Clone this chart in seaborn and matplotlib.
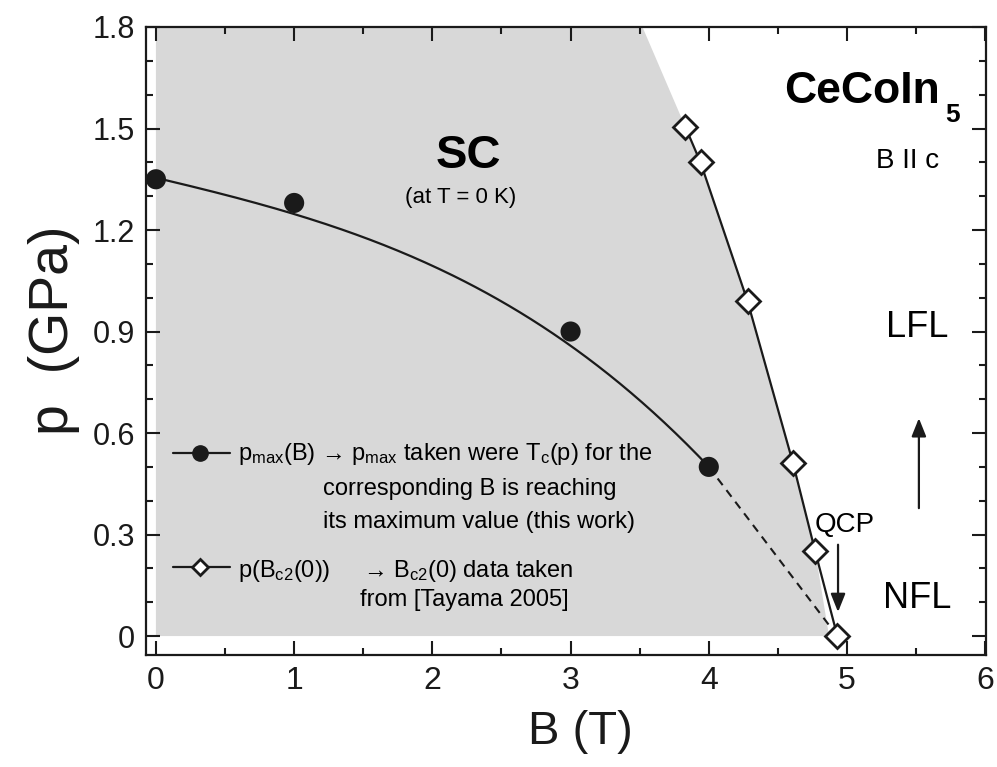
import numpy as np
import pandas as pd
import matplotlib
matplotlib.use("Agg")
import matplotlib.pyplot as plt
from matplotlib.ticker import MultipleLocator
import seaborn as sns

# p_max(B): pressure where Tc(p) peaks for a given field (this work)
b_pmax = [0.0, 1.0, 3.0, 4.0]
p_pmax = [1.35, 1.28, 0.90, 0.50]

# guide-to-the-eye line through p_max
b_guide = [0.0, 0.5, 1.0, 1.5, 2.0, 2.5, 3.0, 3.5, 4.0]
p_guide = [1.35, 1.31, 1.253, 1.175, 1.085, 0.985, 0.875, 0.69, 0.50]

# dashed extrapolation towards the QCP
b_extrap = [4.0, 4.93]
p_extrap = [0.50, 0.0]

# p(Bc2(0)) from Tayama 2005
b_bc2 = [3.83, 3.94, 4.28, 4.61, 4.77, 4.93]
p_bc2 = [1.505, 1.40, 0.99, 0.51, 0.25, 0.0]

# outline of the superconducting region
b_sc = [0.0, 0.0, 3.52, 3.83, 3.94, 4.28, 4.61, 4.77, 4.87]
p_sc = [0.0, 1.8, 1.8, 1.505, 1.40, 0.99, 0.51, 0.25, 0.0]

x_ticks = [0, 1, 2, 3, 4, 5, 6]
y_ticks = [0, 0.3, 0.6, 0.9, 1.2, 1.5, 1.8]
y_ticklabels = ["0", "0.3", "0.6", "0.9", "1.2", "1.5", "1.8"]

sns.set_theme(style="ticks")
plt.rcParams["font.family"] = ["Liberation Sans", "DejaVu Sans"]
plt.rcParams["mathtext.fontset"] = "custom"
plt.rcParams["mathtext.rm"] = "Liberation Sans"
plt.rcParams["mathtext.it"] = "Liberation Sans:italic"
plt.rcParams["mathtext.bf"] = "Liberation Sans:bold"
plt.rcParams["text.color"] = "black"
plt.rcParams["axes.labelcolor"] = "black"
plt.rcParams["xtick.color"] = "black"
plt.rcParams["ytick.color"] = "black"
plt.rcParams["xtick.labelcolor"] = "black"
plt.rcParams["ytick.labelcolor"] = "black"

fig = plt.figure(figsize=(9.97, 7.67), dpi=100)
ax = fig.add_axes([0.1464, 0.146, 0.8425, 0.8188])

# SC region
ax.fill(b_sc, p_sc, color="#d8d8d8", lw=0, zorder=0)

# smooth guide curve through p_max
coef = np.polyfit(b_guide, p_guide, 3)
bb = np.linspace(0, 4, 200)
guide = pd.DataFrame({"B": bb, "p": np.polyval(coef, bb)})
sns.lineplot(data=guide, x="B", y="p", color="k", lw=1.6, ax=ax,
             estimator=None, sort=False, zorder=2)
sns.lineplot(x=b_extrap, y=p_extrap, color="k", lw=1.5, ax=ax,
             linestyle=(0, (4, 3)), estimator=None, zorder=2)

sns.scatterplot(x=b_pmax, y=p_pmax, s=210, color="k", edgecolor="none",
                ax=ax, zorder=4)

sns.lineplot(x=b_bc2, y=p_bc2, color="k", lw=1.6, ax=ax, estimator=None,
             sort=False, marker="D", markersize=12, markerfacecolor="white",
             markeredgecolor="k", markeredgewidth=2, zorder=3)

# legend samples
ax.plot([0.123, 0.535], [0.541, 0.541], color="k", lw=1.6, zorder=3)
ax.plot([0.318], [0.541], "o", ms=11, color="k", zorder=4)
ax.plot([0.123, 0.535], [0.204, 0.204], color="k", lw=1.6, zorder=3)
ax.plot([0.318], [0.204], "D", ms=8, mfc="white", mec="k", mew=2, zorder=4)

fs_leg = 17
ax.text(0.593, 0.520,
        "p$_{\\rm max}$(B) \u2192 p$_{\\rm max}$ taken were T$_{\\rm c}$(p) for the",
        fontsize=fs_leg, ha="left", va="baseline")
ax.text(1.208, 0.417, "corresponding B is reaching", fontsize=fs_leg,
        ha="left", va="baseline")
ax.text(1.208, 0.319, "its maximum value (this work)", fontsize=fs_leg,
        ha="left", va="baseline")
ax.text(0.593, 0.174, "p(B$_{\\rm c2}$(0))", fontsize=fs_leg,
        ha="left", va="baseline")
ax.text(1.498, 0.174, "\u2192 B$_{\\rm c2}$(0) data taken",
        fontsize=fs_leg, ha="left", va="baseline")
ax.text(1.476, 0.089, "from [Tayama 2005]", fontsize=fs_leg,
        ha="left", va="baseline")

# region labels
ax.text(2.258, 1.42, "SC", fontsize=34, fontweight="bold",
        ha="center", va="center")
ax.text(2.207, 1.295, "(at T = 0 K)", fontsize=16, ha="center", va="center")
ax.text(5.673, 1.575, "CeCoIn", fontsize=32, fontweight="bold",
        ha="right", va="baseline")
ax.text(5.712, 1.519, "5", fontsize=19, fontweight="bold",
        ha="left", va="baseline")
ax.text(5.44, 1.404, "B II c", fontsize=20, ha="center", va="center")
ax.text(5.507, 0.913, "LFL", fontsize=26, ha="center", va="center")
ax.text(5.507, 0.112, "NFL", fontsize=26, ha="center", va="center")
ax.text(4.985, 0.328, "QCP", fontsize=20, ha="center", va="center")

arrow = dict(arrowstyle="-|>,head_length=0.55,head_width=0.22",
             color="k", lw=1.6, mutation_scale=20, shrinkA=0, shrinkB=0)
ax.annotate("", xy=(5.52, 0.644), xytext=(5.52, 0.378), arrowprops=arrow)
ax.annotate("", xy=(4.935, 0.071), xytext=(4.935, 0.27), arrowprops=arrow)

ax.set_xlim(-0.072, 6.005)
ax.set_ylim(-0.056, 1.8)
ax.set_xticks(x_ticks)
ax.set_yticks(y_ticks)
ax.set_yticklabels(y_ticklabels)
ax.xaxis.set_minor_locator(MultipleLocator(0.5))
ax.yaxis.set_minor_locator(MultipleLocator(0.1))
ax.tick_params(which="both", direction="in", top=True, right=True,
               width=1.5, colors="k", labelcolor="k")
ax.tick_params(axis="y", labelsize=22)
ax.tick_params(axis="x", labelsize=23)
ax.tick_params(which="major", length=10, pad=8)
ax.tick_params(which="minor", length=5)
for s in ax.spines.values():
    s.set_linewidth(1.6)
    s.set_color("k")

ax.set_xlabel("B (T)", fontsize=34, color="k")
ax.xaxis.set_label_coords(0.517, -0.088)
ax.set_ylabel("p  (GPa)", fontsize=40, color="k")
ax.yaxis.set_label_coords(-0.079, 0.517)

fig.savefig("out.png", dpi=100)
